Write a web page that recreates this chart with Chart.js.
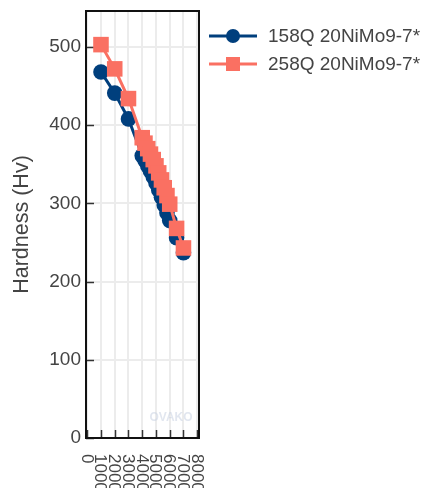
<!DOCTYPE html>
<html>
<head>
<meta charset="utf-8">
<script src="https://cdn.jsdelivr.net/npm/chart.js@4/dist/chart.umd.min.js"></script>
<style>
  html, body { margin: 0; padding: 0; background: #fff; }
  #wrap { width: 421px; height: 488px; }
</style>
</head>
<body>
<div id="wrap"><canvas id="chart" width="421" height="488"></canvas></div>
<script>
// values
const xValues = [1000, 2000, 3000, 4000, 4200, 4400, 4600, 4800, 5000, 5200, 5400, 5600, 5800, 6000, 6500, 7000];
const hardness158Q = [468, 441, 408, 361, 355, 348, 341, 334, 326, 317, 308, 298, 288, 278, 256, 237];
const hardness258Q = [503, 472, 434, 384, 377, 370, 363, 356, 348, 339, 330, 320, 310, 299, 268, 243];
const seriesNames = ['158Q 20NiMo9-7*', '258Q 20NiMo9-7*'];
const xTicks = [0, 1000, 2000, 3000, 4000, 5000, 6000, 7000, 8000];
const yTicks = [0, 100, 200, 300, 400, 500];

const blue = '#003f7d';
const salmon = '#fa7062';
const textColor = '#444';
const fontFamily = '"Liberation Sans", Arial, sans-serif';

function toPoints(xs, ys) {
  return xs.map((x, i) => ({ x, y: ys[i] }));
}

// frame, inside tick marks, rotated x labels, watermark and legend
const decorations = {
  id: 'decorations',
  beforeDatasetsDraw(chart) {
    const { ctx, chartArea: a, scales } = chart;
    ctx.save();
    ctx.font = 'bold 12px ' + fontFamily;
    ctx.fillStyle = 'rgba(200, 210, 226, 0.55)';
    ctx.textAlign = 'center';
    ctx.textBaseline = 'middle';
    ctx.fillText('OVAKO', 171, 418);

    ctx.strokeStyle = '#333';
    ctx.lineWidth = 1.5;
    ctx.beginPath();
    yTicks.forEach(v => {
      const y = Math.round(scales.y.getPixelForValue(v)) + 0.5;
      ctx.moveTo(a.left, y);
      ctx.lineTo(a.left + 8, y);
    });
    xTicks.forEach(v => {
      const x = Math.round(scales.x.getPixelForValue(v)) + 0.5;
      ctx.moveTo(x, a.bottom);
      ctx.lineTo(x, a.bottom - 8);
    });
    ctx.stroke();

    ctx.strokeStyle = '#111';
    ctx.lineWidth = 2;
    ctx.strokeRect(a.left, a.top, a.right - a.left, a.bottom - a.top);
    ctx.restore();
  },
  afterDraw(chart) {
    const { ctx, chartArea: a, scales } = chart;
    ctx.save();
    ctx.fillStyle = textColor;
    ctx.font = '17px ' + fontFamily;
    ctx.textAlign = 'left';
    ctx.textBaseline = 'middle';
    xTicks.forEach(v => {
      const x = scales.x.getPixelForValue(v);
      ctx.save();
      ctx.translate(x - 1, a.bottom + 16);
      ctx.rotate(Math.PI / 2);
      ctx.fillText(String(v), 0, 0);
      ctx.restore();
    });

    // legend
    const rows = [
      { y: 36, color: blue, style: 'circle' },
      { y: 64, color: salmon, style: 'rect' }
    ];
    rows.forEach((row, i) => {
      ctx.strokeStyle = row.color;
      ctx.lineWidth = 3;
      ctx.beginPath();
      ctx.moveTo(209, row.y);
      ctx.lineTo(257, row.y);
      ctx.stroke();
      ctx.fillStyle = row.color;
      if (row.style === 'circle') {
        ctx.beginPath();
        ctx.arc(233, row.y, 7, 0, Math.PI * 2);
        ctx.fill();
      } else {
        ctx.fillRect(226, row.y - 7, 14, 14);
      }
      ctx.fillStyle = textColor;
      ctx.font = '19px ' + fontFamily;
      ctx.fillText(seriesNames[i], 268, row.y + 1);
    });
    ctx.restore();
  }
};

new Chart(document.getElementById('chart'), {
  type: 'line',
  data: {
    datasets: [
      {
        label: seriesNames[1],
        data: toPoints(xValues, hardness258Q),
        borderColor: salmon,
        backgroundColor: salmon,
        borderWidth: 3,
        pointStyle: 'rect',
        pointRadius: 11,
        pointBorderWidth: 0,
        order: 0
      },
      {
        label: seriesNames[0],
        data: toPoints(xValues, hardness158Q),
        borderColor: blue,
        backgroundColor: blue,
        borderWidth: 3,
        pointStyle: 'circle',
        pointRadius: 7.8,
        pointBorderWidth: 0,
        order: 1
      }
    ]
  },
  options: {
    responsive: false,
    animation: false,
    layout: { padding: { left: 0, top: 10, right: 222, bottom: 0 } },
    plugins: {
      legend: { display: false },
      tooltip: { enabled: false }
    },
    scales: {
      x: {
        type: 'linear',
        min: -90,
        max: 8130,
        afterBuildTicks: scale => { scale.ticks = xTicks.map(value => ({ value })); },
        afterFit: scale => {
          scale.height = 50;
          scale.paddingLeft = 0;
          scale.paddingRight = 0;
        },
        ticks: { display: false },
        grid: { color: '#ececec', lineWidth: 2, drawTicks: false },
        border: { display: false }
      },
      y: {
        type: 'linear',
        min: 0,
        max: 546,
        afterBuildTicks: scale => { scale.ticks = yTicks.map(value => ({ value })); },
        afterFit: scale => {
          scale.width = 86;
          scale.paddingTop = 0;
          scale.paddingBottom = 0;
        },
        ticks: {
          color: textColor,
          padding: 5,
          font: { family: fontFamily, size: 19 }
        },
        grid: { color: '#ececec', lineWidth: 2, drawTicks: false },
        border: { display: false },
        title: {
          display: true,
          text: 'Hardness (Hv)',
          color: textColor,
          font: { family: fontFamily, size: 21.5 },
          padding: { top: 9, bottom: 0 }
        }
      }
    }
  },
  plugins: [decorations]
});
</script>
</body>
</html>
